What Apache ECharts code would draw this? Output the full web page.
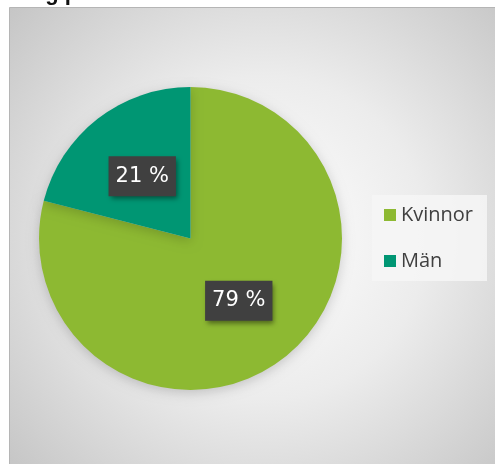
<!DOCTYPE html>
<html>
<head>
<meta charset="utf-8">
<script src="https://cdn.jsdelivr.net/npm/echarts@6/dist/echarts.min.js"></script>
<style>
html,body{margin:0;padding:0;background:#fff;}
#main{width:495px;height:464px;}
</style>
</head>
<body>
<div id="main"></div>
<script>
var titleText='Fördelning per kön';
var categories=['Kvinnor','Män'];
var shares=[79,21];
var colors=['#8DB932','#009673'];

var pieData=[];
for(var i=0;i<categories.length;i++){
	pieData.push({name:categories[i],value:shares[i],itemStyle:{color:colors[i]}});
}

var myChart=echarts.init(document.getElementById('main'));
var option={
	animation:false,
	graphic:[
		{type:'rect',z:-10,shape:{x:9.5,y:7.5,width:490,height:460},
			style:{fill:new echarts.graphic.RadialGradient(0.52,0.5,0.78,[
				{offset:0,color:'#ffffff'},
				{offset:0.45,color:'#ececec'},
				{offset:1,color:'#c2c2c2'}]),
				stroke:'#b5b5b5',lineWidth:1}},
		{type:'text',left:-55,top:-17,z:10,
			style:{text:titleText,fill:'#111',font:'bold 22px "Liberation Sans"'}}
	],
	legend:{
		orient:'vertical',
		left:372,top:195,
		padding:[10,14,10,12],
		backgroundColor:'rgba(246,246,246,0.85)',
		itemWidth:12,itemHeight:12,itemGap:26,
		icon:'rect',
		textStyle:{color:'#404040',fontSize:20,lineHeight:20,fontFamily:'"Open Sans", "Liberation Sans", sans-serif'},
		data:categories
	},
	series:[{
		type:'pie',
		center:[190.5,238.5],
		radius:151.5,
		startAngle:90,
		clockwise:true,
		itemStyle:{shadowBlur:12,shadowColor:'rgba(0,0,0,0.18)',shadowOffsetY:3},
		emphasis:{disabled:true},
		label:{
			show:true,position:'inside',
			formatter:function(p){return p.value+' %';},
			color:'#fff',fontSize:21,fontFamily:'"DejaVu Sans", Verdana, sans-serif',
			backgroundColor:'#404040',padding:[10,7,9,7],
			shadowBlur:5,shadowOffsetX:2,shadowOffsetY:3,shadowColor:'rgba(0,0,0,0.45)'
		},
		labelLine:{show:false},
		data:pieData
	}]
};
myChart.setOption(option);
</script>
</body>
</html>
